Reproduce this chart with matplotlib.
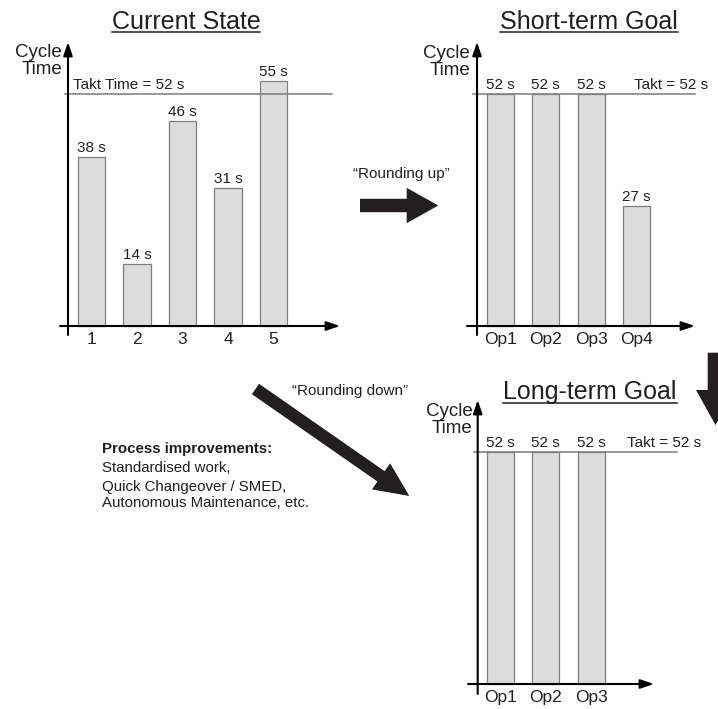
import matplotlib
matplotlib.use('Agg')
import matplotlib.pyplot as plt
from matplotlib.patches import FancyArrow

plt.rcParams['font.family'] = ['Liberation Sans', 'DejaVu Sans']

W, H = 718, 709
TAKT = 52

cur_labels = ['1', '2', '3', '4', '5']
cur_times = [38, 14, 46, 31, 55]
short_labels = ['Op1', 'Op2', 'Op3', 'Op4']
short_times = [52, 52, 52, 27]
long_labels = ['Op1', 'Op2', 'Op3']
long_times = [52, 52, 52]

STEP = 45.5    # pixels between bar centres
SCALE = 4.46   # pixels per second
INK = '#231f20'
BAR = '#dcdcdc'
EDGE = '#7f7f7f'
LINE = '#7a7a7a'

fig = plt.figure(figsize=(W / 100, H / 100), dpi=100)

# full-figure layer in pixel units for arrows and free text
ov = fig.add_axes([0, 0, 1, 1])
ov.set_xlim(0, W)
ov.set_ylim(H, 0)
ov.axis('off')
ov.patch.set_alpha(0)


def panel(x0, y0, box, labels, times, yaxis, xaxis, takt_line, takt_x, takt_text):
    left, top, right, bottom = box
    ax = fig.add_axes([left / W, 1 - bottom / H, (right - left) / W, (bottom - top) / H])
    ax.set_xlim((left - x0) / STEP, (right - x0) / STEP)
    ax.set_ylim((y0 - bottom) / SCALE, (y0 - top) / SCALE)
    ax.patch.set_alpha(0)

    def dx(px):
        return (px - x0) / STEP

    def dy(py):
        return (y0 - py) / SCALE

    idx = list(range(len(times)))
    ax.bar(idx, times, width=0.6, color=BAR, edgecolor=EDGE, linewidth=0.9, zorder=2)
    for i, v in zip(idx, times):
        ax.annotate(f'{v} s', (i, v), xytext=(0, 3.3), textcoords='offset points',
                    ha='center', va='baseline', fontsize=11, color=INK)

    # takt line and its label
    ax.plot([dx(takt_line[0]), dx(takt_line[1])], [TAKT, TAKT], color=LINE, lw=1.1, zorder=3)
    ax.annotate(takt_text, (dx(takt_x), TAKT), xytext=(0, 3.3), textcoords='offset points',
                ha='left', va='baseline', fontsize=11, color=INK)

    head = dict(arrowstyle='-|>,head_length=0.8,head_width=0.27', color='black',
                lw=1.5, shrinkA=0, shrinkB=0)
    # y axis
    ax.annotate('', xy=(dx(yaxis[0]), dy(yaxis[2])), xytext=(dx(yaxis[0]), dy(yaxis[1])),
                arrowprops=head, annotation_clip=False, zorder=4)
    # x axis
    ax.annotate('', xy=(dx(xaxis[1]), 0), xytext=(dx(xaxis[0]), 0),
                arrowprops=head, annotation_clip=False, zorder=4)

    ax.set_xticks(idx)
    ax.set_xticklabels(labels)
    ax.set_yticks([])
    ax.spines['bottom'].set_position(('data', 0))
    for s in ax.spines.values():
        s.set_visible(False)
    ax.tick_params(axis='x', length=0, pad=4, labelsize=12.5, labelcolor=INK)
    return ax


# Current State
panel(91.5, 326, (50, 35, 350, 352), cur_labels, cur_times,
      yaxis=(68, 335, 42), xaxis=(60, 340), takt_line=(65, 332),
      takt_x=73, takt_text='Takt Time = 52 s')
# Short-term Goal
panel(500.3, 326, (460, 35, 705, 352), short_labels, short_times,
      yaxis=(477, 335, 42), xaxis=(467, 695), takt_line=(473, 695),
      takt_x=634, takt_text='Takt = 52 s')
# Long-term Goal
panel(500.3, 684, (460, 392, 705, 709), long_labels, long_times,
      yaxis=(477.7, 694, 400), xaxis=(468, 654), takt_line=(474, 677),
      takt_x=627, takt_text='Takt = 52 s')

# axis titles
for x, y in [(62, 61), (470, 62), (472.7, 420)]:
    ov.text(x, y, 'Cycle\nTime', ha='right', va='center', multialignment='right',
            fontsize=13.5, linespacing=1.0, color=INK)

# panel headings, underlined
titles = []
for x, y, s in [(186, 29.3, 'Current State'), (589, 29.3, 'Short-term Goal'),
                (590, 399.5, 'Long-term Goal')]:
    titles.append((ov.text(x, y, s, ha='center', va='baseline', fontsize=18, color=INK), y))

# transition arrows
ov.add_patch(FancyArrow(360, 205.5, 78.3, 0, width=13.4, head_width=35.4, head_length=31.6,
                        length_includes_head=True, color=INK, lw=0))
ov.add_patch(FancyArrow(715.5, 352.7, 0, 72.3, width=15.6, head_width=39, head_length=35,
                        length_includes_head=True, color=INK, lw=0))
ov.add_patch(FancyArrow(255.5, 389, 153.8, 107, width=12.6, head_width=31.8, head_length=34.4,
                        length_includes_head=True, color=INK, lw=0))

ov.text(401, 178.3, '\u201cRounding up\u201d', ha='center', va='baseline', fontsize=11, color=INK)
ov.text(350, 395, '\u201cRounding down\u201d', ha='center', va='baseline', fontsize=11, color=INK)

notes = [('Process improvements:', 453.3, 'bold'),
         ('Standardised work,', 471.7, 'normal'),
         ('Quick Changeover / SMED,', 490.7, 'normal'),
         ('Autonomous Maintenance, etc.', 507.3, 'normal')]
for s, y, w in notes:
    ov.text(102, y, s, ha='left', va='baseline', fontsize=10.8, weight=w, color=INK)

fig.canvas.draw()
inv = ov.transData.inverted()
for t, y in titles:
    bb = t.get_window_extent().transformed(inv)
    ov.plot([bb.x0, bb.x1], [y + 3, y + 3], color=INK, lw=1.1)

fig.savefig('out.png', dpi=100)
